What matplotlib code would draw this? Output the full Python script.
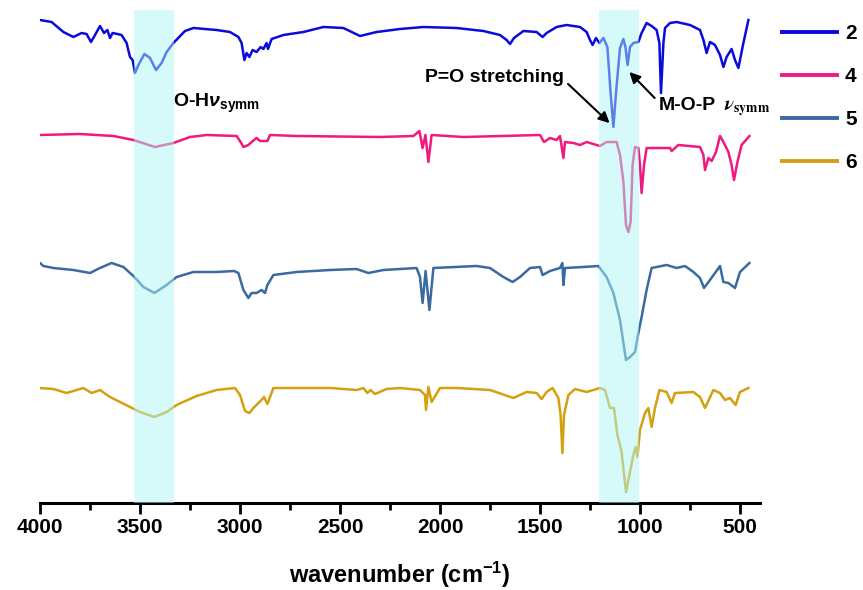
import numpy as np
import matplotlib.pyplot as plt

plt.rcParams['font.family'] = ['Liberation Sans', 'DejaVu Sans']
plt.rcParams['font.weight'] = 'bold'
plt.rcParams['mathtext.fontset'] = 'custom'
plt.rcParams['mathtext.rm'] = 'Liberation Sans:bold'
plt.rcParams['mathtext.bf'] = 'Liberation Sans:bold'
plt.rcParams['mathtext.it'] = 'Liberation Sans:italic:bold'

# IR spectra (wavenumber in cm-1, stacked transmittance in a.u.)
wn_2 = [4000, 3942, 3883, 3833, 3792, 3767, 3745, 3725, 3700, 3680, 3663, 3650, 3637, 3613, 3592, 3567,
        3550, 3537, 3525, 3508, 3478, 3450, 3420, 3392, 3367, 3333, 3275, 3233, 3117, 3050, 3008, 2992,
        2978, 2967, 2953, 2937, 2917, 2897, 2883, 2867, 2860, 2842, 2783, 2683, 2583, 2483, 2400, 2317,
        2200, 2083, 1917, 1783, 1700, 1667, 1650, 1630, 1583, 1517, 1487, 1467, 1417, 1367, 1300, 1267,
        1250, 1237, 1220, 1203, 1183, 1163, 1147, 1133, 1120, 1100, 1083, 1073, 1062, 1050, 1033, 1008,
        992, 967, 942, 917, 903, 895, 883, 875, 850, 817, 750, 700, 683, 667, 650, 625, 600, 583, 567,
        542, 525, 508, 483, 458]
t_2 = [483, 481, 471, 466, 470, 469, 461, 468, 477, 470, 473, 465, 470, 469, 468, 460,
       446, 443, 430, 438, 449, 445, 433, 440, 451, 460, 472, 475, 473, 471, 466, 460,
       443, 450, 446, 453, 451, 456, 454, 460, 454, 464, 468, 471, 476, 475, 467, 471,
       474, 476, 475, 472, 468, 463, 459, 465, 472, 471, 466, 470, 476, 478, 476, 471,
       463, 458, 465, 460, 465, 456, 410, 376, 410, 455, 464, 456, 438, 456, 460, 461,
       470, 480, 477, 473, 460, 410, 460, 475, 480, 481, 478, 473, 463, 450, 461, 458, 448, 436, 446,
       454, 443, 435, 460, 483]

wn_4 = [4000, 3800, 3633, 3533, 3425, 3333, 3250, 3167, 3017, 2997, 2983, 2958, 2942, 2917, 2900, 2863,
        2850, 2717, 2300, 2133, 2103, 2087, 2073, 2058, 2042, 1883, 1500, 1480, 1450, 1417, 1400, 1383,
        1375, 1333, 1300, 1267, 1200, 1167, 1117, 1100, 1083, 1070, 1058, 1047, 1037, 1025, 1008, 1000,
        992, 980, 967, 917, 850, 842, 808, 700, 683, 675, 658, 642, 620, 600, 583, 558, 542, 530, 513,
        492, 453]
t_4 = [368, 369, 367, 363, 356, 360, 366, 368, 367, 361, 356, 358, 361, 365, 362, 362,
       368, 367, 366, 367, 372, 355, 368, 341, 368, 366, 368, 361, 365, 363, 367, 345,
       361, 360, 358, 361, 357, 361, 361, 348, 321, 278, 271, 281, 338, 356, 355, 338,
       310, 338, 355, 355, 355, 352, 358, 356, 348, 333, 345, 342, 351, 367, 361, 351, 338, 323, 341,
       358, 367]

wn_5 = [4000, 3983, 3933, 3833, 3750, 3700, 3642, 3583, 3533, 3483, 3428, 3367, 3317, 3233, 3117, 3030,
        3008, 2983, 2958, 2942, 2917, 2892, 2875, 2863, 2833, 2717, 2550, 2417, 2358, 2283, 2200, 2117,
        2100, 2087, 2072, 2053, 2033, 1817, 1750, 1683, 1637, 1600, 1550, 1500, 1487, 1450, 1400, 1388,
        1383, 1375, 1283, 1208, 1167, 1133, 1100, 1083, 1070, 1050, 1025, 1008, 992, 967, 942, 917,
        867, 817, 775, 733, 700, 680, 650, 625, 600, 583, 558, 525, 500, 453]
t_5 = [240, 237, 235, 233, 230, 235, 240, 236, 227, 216, 210, 218, 226, 231, 231, 232,
       230, 213, 205, 210, 210, 213, 210, 218, 228, 231, 233, 234, 230, 233, 234, 235,
       226, 200, 232, 193, 235, 237, 235, 226, 221, 226, 235, 236, 228, 232, 235, 240,
       218, 235, 236, 237, 226, 210, 183, 160, 143, 146, 151, 170, 186, 213, 235, 236,
       238, 235, 237, 231, 225, 215, 223, 230, 237, 221, 220, 215, 231, 240]

wn_6 = [4000, 3933, 3867, 3783, 3742, 3700, 3650, 3600, 3550, 3500, 3428, 3367, 3317, 3217, 3117, 3025,
        3000, 2975, 2953, 2933, 2908, 2892, 2880, 2863, 2833, 2550, 2417, 2383, 2363, 2347, 2325, 2267,
        2200, 2100, 2075, 2070, 2058, 2042, 2000, 1917, 1750, 1633, 1567, 1517, 1492, 1467, 1437, 1408,
        1397, 1388, 1380, 1358, 1325, 1267, 1200, 1175, 1150, 1130, 1113, 1092, 1070, 1053, 1033, 1022,
        1013, 1000, 975, 958, 942, 925, 903, 867, 842, 825, 733, 700, 675, 633, 600, 575, 550, 522,
        500, 458]
t_6 = [115, 114, 110, 115, 110, 113, 106, 101, 96, 91, 86, 91, 98, 107, 113, 115,
       108, 92, 90, 95, 100, 103, 106, 99, 115, 115, 113, 115, 110, 113, 109, 114,
       115, 113, 108, 93, 116, 101, 115, 115, 113, 105, 111, 110, 104, 111, 115, 105,
       88, 50, 88, 108, 114, 111, 115, 113, 95, 95, 68, 51, 11, 28, 48, 56,
       46, 73, 90, 95, 76, 95, 113, 111, 100, 110, 111, 106, 95, 113, 110, 103, 105, 98,
       111, 115]

labels = ['2', '4', '5', '6']
colors = ['#0a0adc', '#f0197d', '#3a6aa0', '#d4a010']
bands = [(3330, 3530), (1005, 1205)]

fig = plt.figure(figsize=(8.63, 5.90), dpi=100)
ax = fig.add_axes([40 / 863, 87 / 590, 720 / 863, 493 / 590])

for wn, t, lab, c in zip([wn_2, wn_4, wn_5, wn_6], [t_2, t_4, t_5, t_6], labels, colors):
    ax.plot(wn, t, color=c, lw=1.8, label=lab, zorder=2)

for lo, hi in bands:
    ax.axvspan(lo, hi, color='#aef6f6', alpha=0.5, lw=0, zorder=3)

ax.set_xlim(4000, 400)
ax.set_ylim(0, 493)
ax.set_xticks(np.arange(4000, 400, -500))
ax.set_xticks(np.arange(3750, 400, -500), minor=True)
ax.set_yticks([])
for s in ['left', 'right', 'top']:
    ax.spines[s].set_visible(False)
ax.spines['bottom'].set_linewidth(2.2)
ax.tick_params(axis='x', which='major', length=8, width=2, labelsize=15, pad=3)
ax.tick_params(axis='x', which='minor', length=5, width=2)
for lbl in ax.get_xticklabels():
    lbl.set_fontweight('bold')
ax.set_xlabel(r'wavenumber (cm$^{\mathbf{-1}}$)', fontsize=17, fontweight='bold', labelpad=16)

# annotations
ax.text(3335, 396, r'O-H$\nu_{\mathbf{symm}}$', fontsize=14, fontweight='bold', va='baseline', zorder=5)
ax.text(2075, 421, 'P=O stretching', fontsize=14, fontweight='bold', va='baseline', zorder=5)
ax.annotate('', xy=(1142, 378), xytext=(1370, 421),
            arrowprops=dict(arrowstyle='-|>', color='black', lw=1.5, mutation_scale=16), zorder=5)
ax.text(905, 393, 'M-O-P', fontsize=14, fontweight='bold', va='baseline', zorder=5)
ax.text(580, 393, r'$\nu_{\mathbf{symm}}$', fontsize=14, va='baseline', math_fontfamily='stix', zorder=5)
ax.annotate('', xy=(1063, 433), xytext=(917, 403),
            arrowprops=dict(arrowstyle='-|>', color='black', lw=1.5, mutation_scale=16), zorder=5)

leg = ax.legend(loc='upper left', bbox_to_anchor=(772 / 863, 1 - 14 / 590), bbox_transform=fig.transFigure,
                frameon=False, fontsize=15, handlelength=2.6, handletextpad=0.4, labelspacing=1.15,
                borderaxespad=0, borderpad=0.5)
for line in leg.get_lines():
    line.set_linewidth(2.8)
for txt in leg.get_texts():
    txt.set_fontweight('bold')

fig.savefig('out.png', dpi=100)
